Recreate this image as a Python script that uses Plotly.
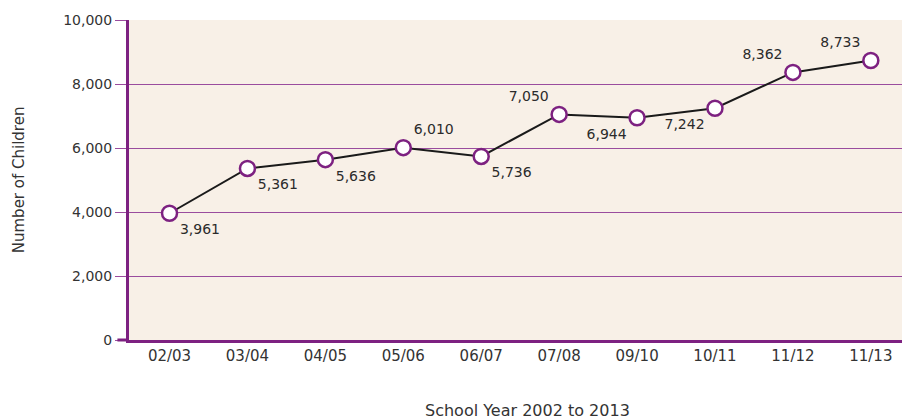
import plotly.graph_objects as go

years = ["02/03", "03/04", "04/05", "05/06", "06/07", "07/08", "09/10", "10/11", "11/12", "11/13"]
children = [3961, 5361, 5636, 6010, 5736, 7050, 6944, 7242, 8362, 8733]
label_pos = ["bottom right", "bottom right", "bottom right", "top right", "bottom right",
             "top left", "bottom left", "bottom left", "top left", "top left"]
y_ticks = [0, 2000, 4000, 6000, 8000, 10000]

PURPLE = "#7d2181"
GRID = "#9a4c9e"
TEXT = "#333333"
FONT = "DejaVu Sans"

fig = go.Figure()
fig.add_trace(go.Scatter(
    x=years, y=children,
    mode="lines+markers+text",
    line=dict(color="#1a1a1a", width=2),
    marker=dict(size=15, color="white", line=dict(color=PURPLE, width=2.5)),
    text=[f"{v:,}" for v in children],
    textposition=label_pos,
    textfont=dict(family=FONT, size=14, color="#2b2b2b"),
    cliponaxis=False,
    hoverinfo="skip",
))

fig.update_layout(
    width=903, height=420,
    margin=dict(l=129, r=1, t=20, b=80),
    paper_bgcolor="white",
    plot_bgcolor="#f8f0e7",
    showlegend=False,
    font=dict(family=FONT, color=TEXT),
    xaxis=dict(
        type="category",
        range=[-0.52, len(years) - 0.6],
        showgrid=False,
        showline=True, linecolor=PURPLE, linewidth=3,
        ticks="", tickfont=dict(family=FONT, size=15, color=TEXT),
        zeroline=False,
    ),
    yaxis=dict(
        range=[0, 10000],
        tickvals=y_ticks,
        tickformat=",",
        showgrid=True, gridcolor=GRID, gridwidth=1,
        showline=True, linecolor=PURPLE, linewidth=3,
        ticks="outside", ticklen=11, tickcolor=GRID, tickwidth=1,
        tickfont=dict(family=FONT, size=14, color=TEXT),
        zeroline=False,
    ),
    shapes=[
        dict(type="line", xref="paper", yref="paper", x0=-0.015, x1=0, y0=0, y1=0,
             line=dict(color=PURPLE, width=3)),
    ],
    annotations=[
        dict(text="School Year 2002 to 2013", xref="paper", yref="paper",
             x=0.515, y=-0.219, xanchor="center", yanchor="middle", showarrow=False,
             font=dict(family=FONT, size=16, color=TEXT)),
        dict(text="Number of Children", xref="paper", yref="paper",
             x=-0.142, y=0.5, xanchor="center", yanchor="middle", showarrow=False,
             textangle=-90, font=dict(family=FONT, size=15, color=TEXT)),
    ],
)

fig.write_html("out.html", config={"displayModeBar": False},
               post_script="document.body.style.margin='0px';")
